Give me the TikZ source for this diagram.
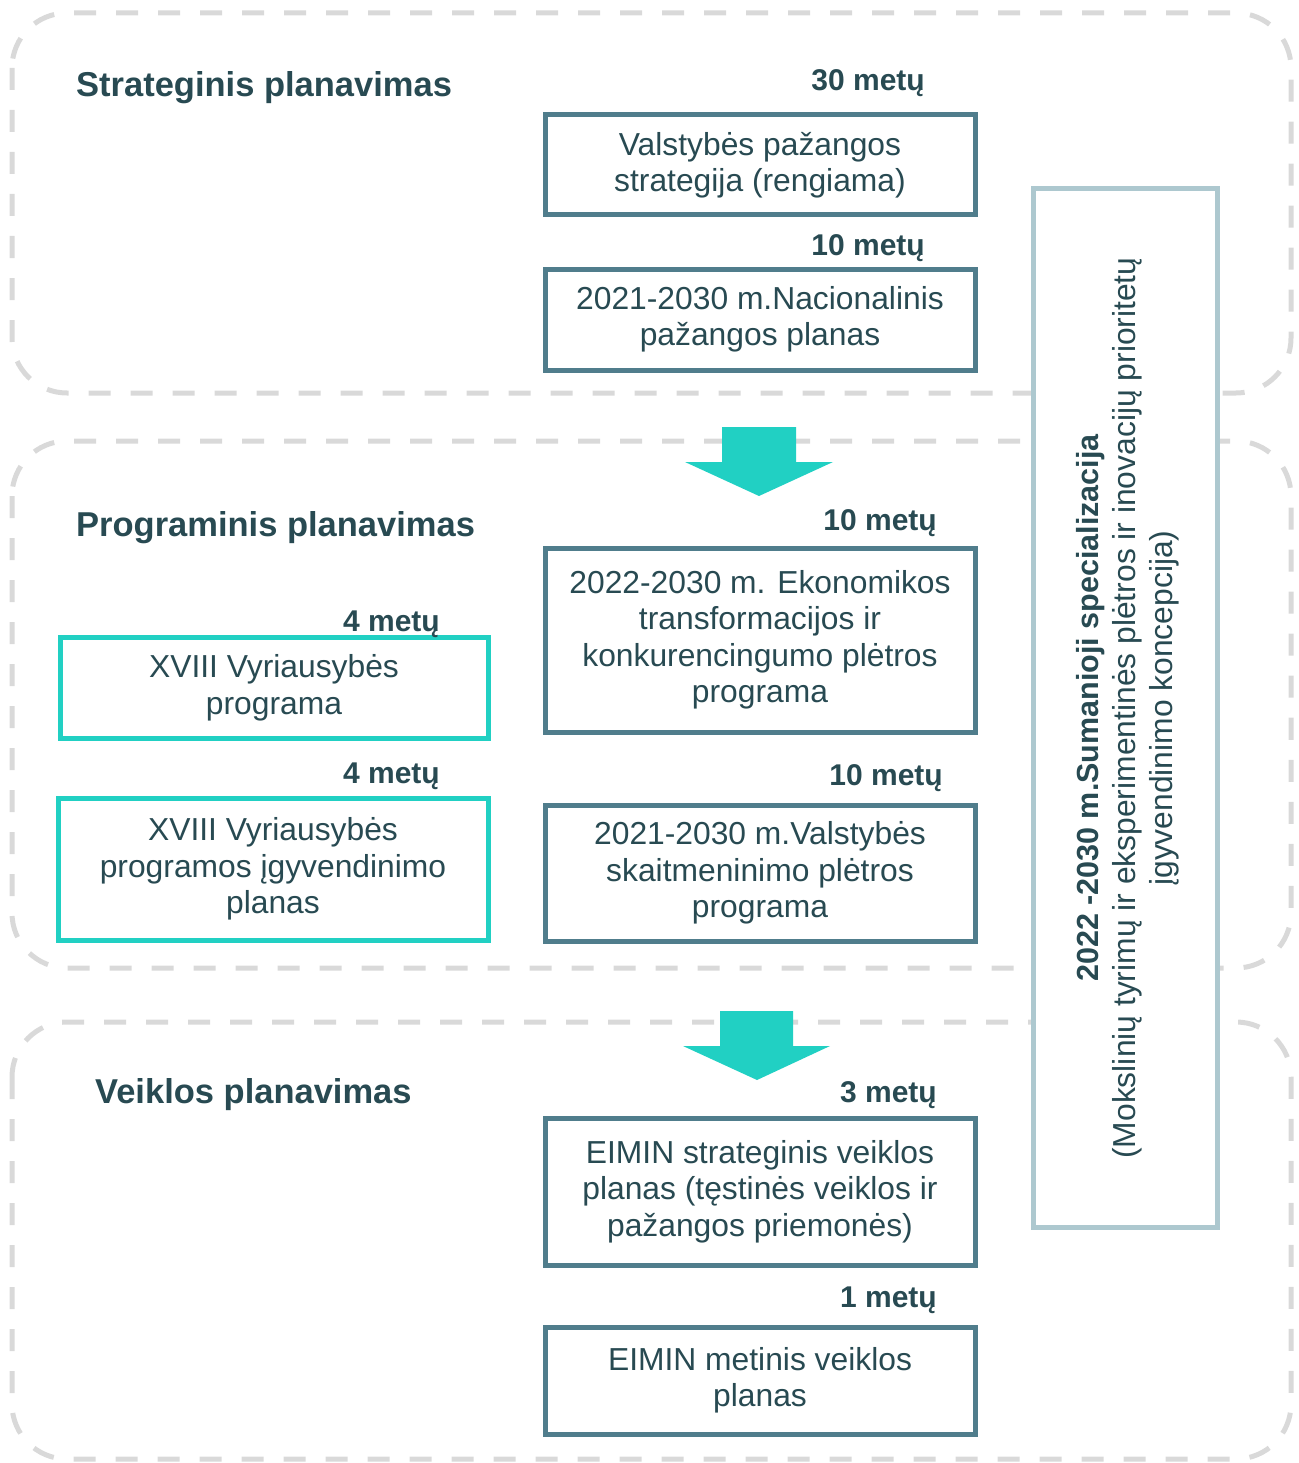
\documentclass[tikz,border=0pt]{standalone}
\usepackage{fontspec}
\setmainfont{Liberation Sans}
\definecolor{txt}{HTML}{284A52}
\definecolor{boxc}{HTML}{507D8C}
\definecolor{cyanc}{HTML}{21D0C3}
\definecolor{smart}{HTML}{ADC8CF}
\definecolor{dashc}{HTML}{D9D9D9}
\tikzset{
  region/.style={draw=dashc, line width=5pt, dash pattern=on 22pt off 20pt, rounded corners=55pt},
  tbox/.style={draw=boxc, line width=5pt, fill=white, inner sep=0pt, align=center, text=txt,
    font=\fontsize{31.8}{36.5}\selectfont},
  cbox/.style={tbox, draw=cyanc},
  lab/.style={anchor=base east, inner sep=0pt, text=txt, font=\bfseries\fontsize{30}{36}\selectfont},
  ttl/.style={anchor=base west, inner sep=0pt, text=txt, font=\bfseries\fontsize{34.5}{40}\selectfont},
  blockarrow/.style={fill=cyanc}
}
\begin{document}
\begin{tikzpicture}[x=1pt,y=-1pt]
\useasboundingbox (0,0) rectangle (1298,1463);
% dashed regions
\draw[region] (12,13) rectangle (1291,393);
\draw[region] (12,441) rectangle (1291,968);
\draw[region] (12,1022) rectangle (1291,1459);
% smart specialisation box
\node[draw=smart, line width=5pt, fill=white, minimum width=184pt, minimum height=1038pt, inner sep=0pt] (smart) at (1125,708) {};
\node[rotate=90, align=center, text=txt, font=\fontsize{31.8}{37}\selectfont, inner sep=0pt] (smarttxt) at ([xshift=3pt]smart.center)
  {{\bfseries\fontsize{30.5}{37}\selectfont 2022 -2030 m.Sumanioji specializacija}\\(Mokslinių tyrimų ir eksperimentinės plėtros ir inovacijų prioritetų\\įgyvendinimo koncepcija)};
% block arrows
\fill[blockarrow] (722,427) -- (796,427) -- (796,462) -- (833,462) -- (759,496) -- (685,462) -- (722,462) -- cycle;
\fill[blockarrow] (720,1011) -- (793,1011) -- (793,1046) -- (830,1046) -- (757,1080) -- (683,1046) -- (720,1046) -- cycle;
% titles
\node[ttl] (t1) at (76,97) {Strateginis planavimas};
\node[ttl] (t2) at (76,536) {Programinis planavimas};
\node[ttl] (t3) at (95,1103) {Veiklos planavimas};
% boxes
\node[tbox, minimum width=430pt, minimum height=100pt] (b1) at (760,165) {Valstybės pažangos\\strategija (rengiama)};
\node[tbox, minimum width=430pt, minimum height=101pt] (b2) at (760,319.5) {2021-2030 m.Nacionalinis\\pažangos planas};
\node[tbox, minimum width=430pt, minimum height=184pt] (b3) at (760,640) {2022-2030 m. Ekonomikos\\transformacijos ir\\konkurencingumo plėtros\\programa};
\node[tbox, minimum width=430pt, minimum height=136pt] (b4) at (760,873) {2021-2030 m.Valstybės\\skaitmeninimo plėtros\\programa};
\node[cbox, minimum width=428pt, minimum height=101pt] (c1) at (274,688) {XVIII Vyriausybės\\programa};
\node[cbox, minimum width=430pt, minimum height=142pt] (c2) at (273,869) {XVIII Vyriausybės\\programos įgyvendinimo\\planas};
\node[tbox, minimum width=430pt, minimum height=147pt] (b5) at (760,1191.5) {EIMIN strateginis veiklos\\planas (tęstinės veiklos ir\\pažangos priemonės)};
\node[tbox, minimum width=430pt, minimum height=107pt] (b6) at (760,1380.5) {EIMIN metinis veiklos\\planas};
% duration labels
\node[lab] (l1) at (925,91) {30 metų};
\node[lab] (l2) at (925,255) {10 metų};
\node[lab] (l3) at (937,530) {10 metų};
\node[lab] (l4) at (440,631) {4 metų};
\node[lab] (l5) at (440,783) {4 metų};
\node[lab] (l6) at (943,785) {10 metų};
\node[lab] (l7) at (937,1102) {3 metų};
\node[lab] (l8) at (937,1307) {1 metų};
\end{tikzpicture}
\end{document}
